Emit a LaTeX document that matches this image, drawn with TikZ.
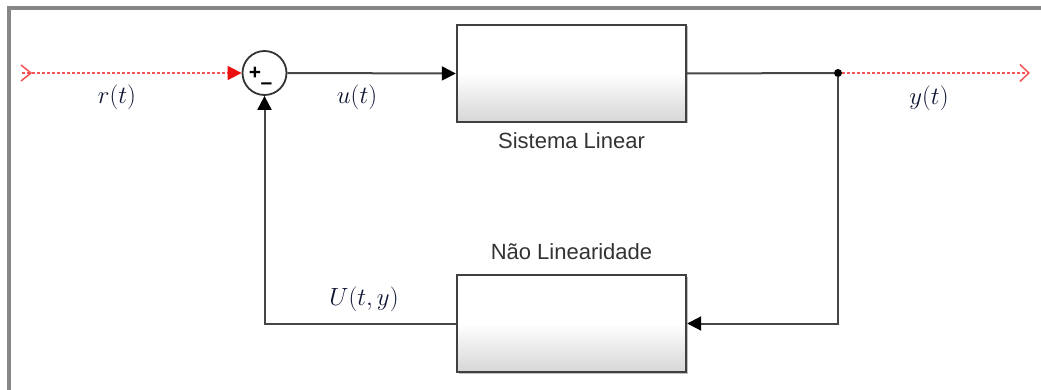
\documentclass[tikz,border=0pt]{standalone}
\usepackage{fontspec}
\newfontfamily\labfont{Liberation Sans}
\usetikzlibrary{arrows.meta,shadows,calc}
\definecolor{wire}{RGB}{70,70,70}
\definecolor{frame}{RGB}{135,135,135}
\definecolor{sigred}{RGB}{245,85,85}
\definecolor{arrred}{RGB}{235,15,15}
\definecolor{mathc}{RGB}{15,20,50}
\tikzset{
  blockbox/.style={draw=black!75, line width=2.4pt, minimum width=229pt, minimum height=97pt,
    top color=white, bottom color=black!16, middle color=white, inner sep=0pt,
    drop shadow={shadow xshift=1.5pt, shadow yshift=-1.5pt, opacity=0.25, fill=black}},
  sumnode/.style={circle, draw=black!80, line width=1.8pt, minimum size=44pt, inner sep=0pt, fill=white},
  wireline/.style={draw=wire, line width=2pt},
  arr/.style={-{Triangle[length=14pt,width=14pt,fill=black,color=black]}},
  redsig/.style={draw=sigred, line width=1.5pt, dash pattern=on 3pt off 2pt},
  blocklabel/.style={font=\labfont\fontsize{22}{24}\selectfont, text=black!80},
  mathlabel/.style={font=\fontsize{26}{28}\selectfont, text=mathc},
  signtext/.style={inner sep=0pt, font=\labfont\fontsize{21}{21}\selectfont\bfseries},
}
\begin{document}
\begin{tikzpicture}[x=1pt,y=-1pt]
\useasboundingbox (0,0) rectangle (1041,390);
% frame
\draw[frame, line width=3.5pt] (9,400) -- (9,8) -- (1050,8);

% blocks
\node[sumnode] (sum) at (264.5,73) {};
\node[signtext] (plus) at (255,73.5) {+};
\node[signtext] (minus) at (266.5,86.5) {–};
\node[blockbox] (lin) at (571.5,73.5) {};
\node[blocklabel] (linlab) at (571.5,141) {Sistema Linear};
\node[blockbox] (nl) at (571.5,323.5) {};
\node[blocklabel] (nllab) at (571.5,252) {Não Linearidade};
\node[circle, fill=black, inner sep=0pt, minimum size=8pt] (junc) at (838,73) {};

% signal endpoints
\coordinate (in) at (22,73);
\coordinate (out) at (1030,73);

% connectors
\draw[redsig, -{Triangle[length=14pt,width=14pt,fill=arrred,color=arrred]}] (in) -- (sum.west);
\draw[sigred, line width=1.5pt] ($(in)+(-1,-8)$) -- ($(in)+(9,0)$) -- ($(in)+(-1,8)$);
\draw[wireline, arr] (sum.east) -- (lin.west);
\draw[wireline] (lin.east) -- (junc);
\draw[redsig, -{Straight Barb[length=9pt,width=17pt]}] (junc) -- (out);
\draw[wireline, arr] (junc) |- (nl.east);
\draw[wireline, arr] (nl.west) -| (sum.south);

% labels
\node[mathlabel] (rl) at (117,97) {$r(t)$};
\node[mathlabel] (ul) at (357,97) {$u(t)$};
\node[mathlabel] (yl) at (929,98) {$y(t)$};
\node[mathlabel] (Ul) at (364,299) {$U(t,y)$};
\end{tikzpicture}
\end{document}
